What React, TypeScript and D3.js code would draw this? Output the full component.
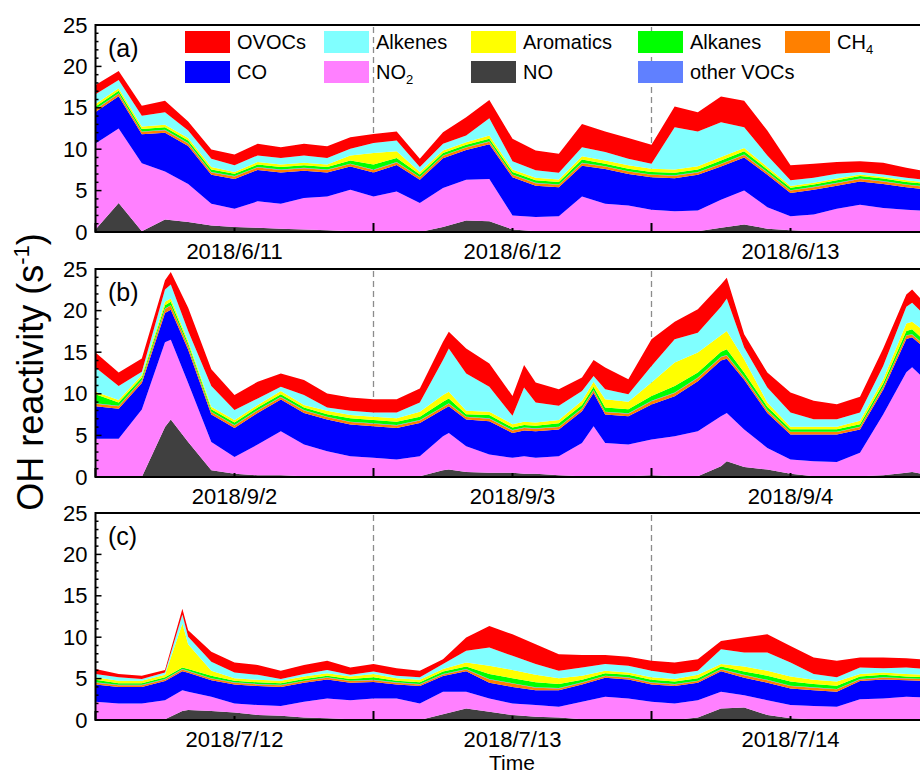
import React, { useEffect, useRef } from "react";
import * as d3 from "d3";

// stack order, bottom first
const keys = ["NO", "NO2", "CO", "CH4", "otherVOCs", "Alkanes", "Aromatics", "Alkenes", "OVOCs"];

const colors: Record<string, string> = {
  NO: "#404040",
  NO2: "#ff80ff",
  CO: "#0000ff",
  CH4: "#ff8000",
  otherVOCs: "#6080ff",
  Alkanes: "#00ff00",
  Aromatics: "#ffff00",
  Alkenes: "#80ffff",
  OVOCs: "#ff0000",
};

const dayLabelsA = ["2018/6/11", "2018/6/12", "2018/6/13"];
const dayLabelsB = ["2018/9/2", "2018/9/3", "2018/9/4"];
const dayLabelsC = ["2018/7/12", "2018/7/13", "2018/7/14"];

// (a) June, hours since 6/11 00:00
const hoursA = [0, 2, 4, 6, 8, 10, 12, 14, 16, 18, 20, 22, 24, 26, 28, 30, 32, 34, 36, 38, 40, 42, 44, 46, 48, 50, 52, 54, 56, 58, 60, 62, 64, 66, 68, 70, 72];
const noA = [0.3, 3.5, 0.1, 1.5, 1.2, 0.8, 0.6, 0.5, 0.4, 0.3, 0.2, 0.1, 0.1, 0.1, 0.0, 0.6, 1.4, 1.3, 0.3, 0.1, 0.0, 0.0, 0.0, 0.0, 0.0, 0.0, 0.1, 0.5, 0.9, 0.4, 0.2, 0.1, 0.1, 0.0, 0.0, 0.0, 0.0];
const no2A = [10.4, 9.0, 8.2, 5.8, 4.6, 2.6, 2.2, 3.2, 3.0, 3.8, 4.1, 5.0, 4.2, 4.8, 3.5, 4.7, 4.9, 5.1, 1.7, 1.7, 1.9, 4.3, 3.4, 3.2, 2.7, 2.5, 2.5, 3.4, 4.1, 2.6, 1.7, 2.0, 2.7, 3.3, 2.9, 2.7, 2.5];
const coA = [3.8, 3.9, 3.5, 4.7, 4.6, 3.5, 3.6, 3.8, 3.8, 3.3, 2.9, 2.8, 2.9, 3.2, 2.8, 3.6, 3.6, 4.2, 4.6, 3.8, 3.5, 3.7, 4.2, 3.8, 3.9, 4.0, 4.3, 4.0, 4.0, 3.9, 2.8, 3.0, 2.8, 2.8, 2.9, 2.7, 2.6];
const ch4A = [0.3, 0.3, 0.3, 0.3, 0.3, 0.3, 0.3, 0.3, 0.3, 0.3, 0.3, 0.3, 0.3, 0.3, 0.3, 0.3, 0.3, 0.3, 0.3, 0.3, 0.3, 0.3, 0.3, 0.3, 0.3, 0.3, 0.3, 0.3, 0.3, 0.3, 0.3, 0.3, 0.3, 0.3, 0.3, 0.3, 0.3];
const otherA = [0.05, 0.05, 0.05, 0.05, 0.05, 0.05, 0.05, 0.05, 0.05, 0.05, 0.05, 0.05, 0.05, 0.05, 0.05, 0.05, 0.05, 0.05, 0.05, 0.05, 0.05, 0.05, 0.05, 0.05, 0.05, 0.05, 0.05, 0.05, 0.05, 0.05, 0.05, 0.05, 0.05, 0.05, 0.05, 0.05, 0.05];
const alkaneA = [0.3, 0.3, 0.3, 0.3, 0.3, 0.3, 0.3, 0.3, 0.3, 0.3, 0.3, 0.4, 0.6, 0.5, 0.3, 0.3, 0.3, 0.3, 0.3, 0.3, 0.3, 0.4, 0.3, 0.3, 0.3, 0.3, 0.3, 0.4, 0.4, 0.3, 0.3, 0.3, 0.3, 0.3, 0.3, 0.3, 0.3];
const aromA = [0.3, 0.3, 0.3, 0.3, 0.3, 0.3, 0.2, 0.3, 0.3, 0.3, 0.3, 0.6, 1.4, 0.8, 0.3, 0.3, 0.3, 0.4, 0.3, 0.3, 0.3, 0.4, 0.4, 0.4, 0.4, 0.4, 0.4, 0.4, 0.4, 0.3, 0.2, 0.2, 0.2, 0.2, 0.2, 0.2, 0.2];
const alkeneA = [1.2, 1.0, 1.3, 1.5, 0.9, 1.0, 0.8, 0.8, 0.8, 0.9, 0.8, 0.8, 1.2, 1.3, 0.6, 0.8, 0.8, 2.1, 1.0, 0.9, 0.8, 1.1, 1.0, 0.8, 0.6, 5.1, 4.2, 4.2, 2.5, 1.4, 0.7, 0.6, 0.6, 0.3, 0.3, 0.3, 0.3];
const ovocA = [1.1, 1.1, 1.2, 1.4, 1.1, 1.1, 1.3, 1.4, 1.3, 1.4, 1.4, 1.4, 1.1, 1.1, 1.0, 1.4, 2.2, 2.2, 2.7, 2.4, 2.3, 2.8, 2.5, 2.5, 2.3, 2.5, 2.3, 3.1, 3.2, 3.0, 1.8, 1.7, 1.4, 1.3, 1.4, 1.2, 1.0];

// (b) September, hours since 9/2 00:00
const hoursB = [0, 2, 4, 6, 6.5, 8, 10, 12, 14, 16, 18, 20, 22, 24, 26, 28, 30, 30.5, 32, 34, 36, 37, 38, 40, 42, 43, 44, 46, 48, 50, 52, 54, 54.5, 56, 58, 60, 62, 64, 66, 68, 70, 70.5, 72];
const noB = [0, 0, 0, 6.0, 6.9, 4.2, 0.8, 0.4, 0.2, 0.2, 0.1, 0.1, 0, 0, 0, 0.1, 0.8, 0.9, 0.6, 0.5, 0.5, 0.4, 0.4, 0.2, 0.1, 0.1, 0.1, 0.1, 0.2, 0.1, 0.1, 1.3, 1.9, 1.2, 0.9, 0.4, 0.1, 0.1, 0.1, 0.2, 0.5, 0.6, 0.2];
const no2B = [4.6, 4.6, 8.1, 10.2, 9.6, 7.1, 3.4, 2.0, 3.7, 5.3, 3.8, 3.0, 2.5, 2.3, 2.1, 2.4, 4.1, 4.4, 3.1, 2.2, 1.8, 2.1, 1.9, 2.3, 4.0, 6.0, 4.0, 3.8, 4.3, 4.8, 5.4, 6.0, 5.8, 4.5, 2.6, 1.7, 1.8, 1.7, 2.8, 7.3, 12.1, 12.6, 11.0];
const coB = [3.9, 3.6, 3.2, 3.5, 3.6, 4.0, 3.3, 3.5, 3.8, 3.8, 3.8, 3.8, 3.8, 3.8, 3.8, 4.0, 3.2, 3.2, 3.2, 4.0, 3.0, 3.1, 3.2, 3.2, 3.8, 4.0, 3.4, 3.4, 4.2, 4.8, 6.0, 6.7, 6.5, 6.0, 4.2, 3.0, 3.2, 3.3, 2.8, 3.0, 4.0, 3.6, 3.8];
const ch4B = [0.3, 0.3, 0.3, 0.5, 0.5, 0.4, 0.3, 0.3, 0.3, 0.3, 0.3, 0.3, 0.3, 0.3, 0.3, 0.3, 0.3, 0.3, 0.3, 0.3, 0.3, 0.3, 0.3, 0.3, 0.3, 0.3, 0.3, 0.3, 0.4, 0.4, 0.4, 0.4, 0.4, 0.3, 0.3, 0.3, 0.3, 0.3, 0.3, 0.3, 0.4, 0.3, 0.3];
const otherB = [0.05, 0.05, 0.05, 0.05, 0.05, 0.05, 0.05, 0.05, 0.05, 0.05, 0.05, 0.05, 0.05, 0.05, 0.05, 0.05, 0.05, 0.05, 0.05, 0.05, 0.05, 0.05, 0.05, 0.05, 0.05, 0.05, 0.05, 0.05, 0.05, 0.05, 0.05, 0.05, 0.05, 0.05, 0.05, 0.05, 0.05, 0.05, 0.05, 0.05, 0.05, 0.05, 0.05];
const alkaneB = [1.1, 0.4, 0.3, 0.4, 0.4, 0.3, 0.3, 0.3, 0.3, 0.3, 0.3, 0.3, 0.4, 0.4, 0.4, 0.4, 0.6, 0.6, 0.3, 0.4, 0.3, 0.3, 0.3, 0.4, 0.4, 0.4, 0.5, 0.5, 0.6, 0.8, 0.6, 0.6, 0.7, 0.5, 0.4, 0.3, 0.3, 0.3, 0.3, 0.4, 0.5, 0.6, 0.5];
const aromB = [0.3, 0.3, 0.3, 0.4, 0.4, 0.3, 0.3, 0.3, 0.3, 0.4, 0.3, 0.4, 0.4, 0.4, 0.4, 0.6, 0.8, 0.8, 0.4, 0.4, 0.4, 0.4, 0.4, 0.4, 0.5, 0.6, 1.0, 0.9, 1.6, 2.8, 2.4, 2.0, 2.2, 1.6, 0.5, 0.3, 0.3, 0.3, 0.4, 0.5, 0.9, 0.9, 1.2];
const alkeneB = [2.9, 1.7, 0.4, 1.5, 1.7, 1.2, 2.5, 1.2, 0.8, 0.5, 1.2, 0.4, 0.5, 0.5, 0.7, 1.1, 4.2, 5.2, 4.5, 3.0, 1.0, 4.1, 2.4, 1.7, 1.2, 0.7, 1.2, 0.9, 2.0, 2.8, 2.4, 3.4, 3.9, 1.4, 1.8, 1.7, 0.9, 0.9, 1.0, 1.6, 2.0, 2.3, 1.8];
const ovocB = [1.8, 1.6, 1.6, 1.1, 1.5, 2.8, 2.0, 1.8, 2.0, 1.6, 1.8, 1.7, 1.6, 1.6, 1.6, 1.7, 2.2, 2.0, 3.0, 2.8, 2.4, 2.7, 2.4, 2.0, 1.6, 1.9, 2.6, 1.8, 3.2, 2.1, 2.8, 2.7, 2.5, 1.6, 1.8, 2.4, 2.2, 1.8, 1.9, 2.1, 1.5, 1.6, 1.4];

// (c) July, hours since 7/12 00:00
const hoursC = [0, 2, 4, 6, 7.5, 8, 10, 12, 14, 16, 18, 20, 22, 24, 26, 28, 30, 32, 34, 36, 38, 40, 42, 44, 46, 48, 50, 52, 54, 56, 58, 60, 62, 64, 66, 68, 70, 72];
const noC = [0, 0, 0, 0.1, 1.1, 1.2, 1.1, 0.9, 0.6, 0.5, 0.3, 0.2, 0.1, 0.1, 0.1, 0, 0.7, 1.4, 1.0, 0.6, 0.4, 0.3, 0.1, 0, 0, 0, 0, 0.3, 1.4, 1.5, 0.6, 0.2, 0.1, 0, 0, 0, 0, 0];
const no2C = [2.2, 2.0, 2.0, 2.3, 2.5, 2.2, 1.7, 1.1, 1.2, 1.2, 1.9, 2.4, 2.3, 2.5, 2.5, 2.0, 2.7, 2.0, 1.6, 1.4, 1.4, 1.3, 2.1, 2.8, 2.6, 2.2, 2.0, 2.1, 2.0, 1.5, 1.8, 1.6, 1.6, 1.6, 2.5, 2.6, 2.8, 2.7];
const coC = [2.1, 2.0, 2.0, 2.3, 2.3, 2.3, 2.0, 2.3, 2.3, 2.3, 2.3, 2.3, 2.1, 2.0, 1.7, 2.1, 1.9, 2.5, 1.9, 2.0, 1.8, 2.0, 2.1, 2.3, 2.3, 2.1, 2.1, 2.1, 2.5, 2.1, 2.1, 2.0, 1.9, 1.8, 2.2, 2.3, 2.0, 2.0];
const ch4C = [0.2, 0.2, 0.2, 0.2, 0.2, 0.2, 0.2, 0.2, 0.2, 0.2, 0.2, 0.2, 0.2, 0.2, 0.2, 0.2, 0.2, 0.2, 0.4, 0.4, 0.3, 0.2, 0.2, 0.2, 0.2, 0.2, 0.2, 0.2, 0.2, 0.3, 0.3, 0.3, 0.3, 0.3, 0.2, 0.2, 0.2, 0.2];
const otherC = [0.05, 0.05, 0.05, 0.05, 0.05, 0.05, 0.05, 0.05, 0.05, 0.05, 0.05, 0.05, 0.05, 0.05, 0.05, 0.05, 0.05, 0.05, 0.05, 0.05, 0.05, 0.05, 0.05, 0.05, 0.05, 0.05, 0.05, 0.05, 0.05, 0.05, 0.05, 0.05, 0.05, 0.05, 0.05, 0.05, 0.05, 0.05];
const alkaneC = [0.3, 0.2, 0.2, 0.2, 0.2, 0.2, 0.3, 0.2, 0.2, 0.2, 0.2, 0.2, 0.2, 0.3, 0.2, 0.2, 0.3, 0.3, 0.6, 0.6, 0.6, 0.5, 0.3, 0.3, 0.3, 0.3, 0.3, 0.3, 0.3, 0.4, 0.5, 0.5, 0.4, 0.4, 0.3, 0.3, 0.2, 0.2];
const aromC = [0.3, 0.3, 0.3, 0.3, 5.3, 3.0, 0.6, 0.3, 0.3, 0.3, 0.3, 0.3, 0.3, 0.4, 0.3, 0.3, 0.3, 0.5, 1.0, 1.0, 0.9, 0.7, 0.5, 0.3, 0.3, 0.3, 0.3, 0.4, 0.3, 0.6, 0.6, 0.6, 0.5, 0.5, 0.3, 0.3, 0.3, 0.3];
const alkeneC = [0.4, 0.4, 0.2, 0.3, 1.1, 0.9, 1.1, 0.7, 0.6, 0.2, 0.3, 0.4, 0.2, 0.3, 0.3, 0.3, 0.6, 1.4, 2.2, 1.7, 1.3, 0.9, 1.0, 0.8, 0.8, 0.8, 0.6, 0.5, 1.8, 1.7, 2.2, 1.7, 0.7, 0.5, 0.8, 0.5, 0.8, 0.7];
const ovocC = [0.6, 0.4, 0.4, 0.3, 0.7, 0.8, 1.2, 1.2, 1.2, 1.0, 1.1, 1.1, 0.9, 0.9, 0.9, 0.8, 0.6, 1.6, 2.6, 2.6, 2.4, 2.0, 1.5, 1.1, 1.1, 1.2, 1.4, 1.4, 1.0, 1.8, 2.2, 2.0, 2.0, 2.0, 1.2, 1.3, 1.1, 1.1];

const panelsData = [
  {
    tag: "(a)", days: dayLabelsA, hours: hoursA,
    series: { NO: noA, NO2: no2A, CO: coA, CH4: ch4A, otherVOCs: otherA, Alkanes: alkaneA, Aromatics: aromA, Alkenes: alkeneA, OVOCs: ovocA },
  },
  {
    tag: "(b)", days: dayLabelsB, hours: hoursB,
    series: { NO: noB, NO2: no2B, CO: coB, CH4: ch4B, otherVOCs: otherB, Alkanes: alkaneB, Aromatics: aromB, Alkenes: alkeneB, OVOCs: ovocB },
  },
  {
    tag: "(c)", days: dayLabelsC, hours: hoursC,
    series: { NO: noC, NO2: no2C, CO: coC, CH4: ch4C, otherVOCs: otherC, Alkanes: alkaneC, Aromatics: aromC, Alkenes: alkeneC, OVOCs: ovocC },
  },
];

// legend: [key, main text, subscript]
const legendRows = [
  [["OVOCs", "OVOCs", ""], ["Alkenes", "Alkenes", ""], ["Aromatics", "Aromatics", ""], ["Alkanes", "Alkanes", ""], ["CH4", "CH", "4"]],
  [["CO", "CO", ""], ["NO2", "NO", "2"], ["NO", "NO", ""], ["otherVOCs", "other VOCs", ""]],
];

const FONT = "'Liberation Sans', Arial, Helvetica, sans-serif";

const Chart = () => {
  const svgRef = useRef<SVGSVGElement>(null);

  useEffect(() => {
    const svg = d3.select(svgRef.current);
    svg.selectAll("*").remove();

    const x0 = 95.5;
    const x1 = 929.5;
    const x = d3.scaleLinear().domain([0, 72]).range([x0, x1]);
    const boxes = [
      { top: 25, bottom: 232 },
      { top: 269, bottom: 477 },
      { top: 513, bottom: 720 },
    ];

    panelsData.forEach((p, pi) => {
      const { top, bottom } = boxes[pi];
      const y = d3.scaleLinear().domain([0, 25]).range([bottom, top]);
      const g = svg.append("g");

      const clipId = `clip${pi}`;
      svg.append("clipPath").attr("id", clipId)
        .append("rect").attr("x", x0).attr("y", top).attr("width", x1 - x0).attr("height", bottom - top);

      // midnight separators behind the data
      [24, 48].forEach((h) => {
        g.append("line")
          .attr("x1", x(h)).attr("x2", x(h))
          .attr("y1", top + 2).attr("y2", bottom)
          .attr("stroke", "#8c8c8c")
          .attr("stroke-width", 1.3)
          .attr("stroke-dasharray", "6,4");
      });

      const rows = p.hours.map((h, i) => {
        const r: any = { h };
        keys.forEach((k) => (r[k] = (p.series as any)[k][i]));
        return r;
      });
      const stacked = d3.stack<any>().keys(keys)(rows);

      const area = d3.area<any>()
        .x((d) => x(d.data.h))
        .y0((d) => y(d[0]))
        .y1((d) => y(d[1]));

      g.append("g").attr("clip-path", `url(#${clipId})`)
        .selectAll("path")
        .data(stacked)
        .enter()
        .append("path")
        .attr("d", area)
        .attr("fill", (d) => colors[d.key]);

      // frame
      g.append("rect")
        .attr("x", x0).attr("y", top)
        .attr("width", x1 - x0).attr("height", bottom - top)
        .attr("fill", "none").attr("stroke", "#000").attr("stroke-width", 2);

      // y ticks, pointing in
      d3.range(0, 26, 1).forEach((v) => {
        const major = v % 5 === 0;
        g.append("line")
          .attr("x1", x0).attr("x2", x0 + (major ? 6 : 3))
          .attr("y1", y(v)).attr("y2", y(v))
          .attr("stroke", "#000").attr("stroke-width", 1.5);
      });
      y.ticks(5).forEach((v) => {
        g.append("text")
          .attr("x", x0 - 8).attr("y", y(v))
          .attr("text-anchor", "end")
          .attr("dominant-baseline", "central")
          .attr("font-family", FONT).attr("font-size", 22)
          .text(v);
      });

      // x ticks, pointing in
      [0, 12, 24, 36, 48, 60, 72].forEach((h) => {
        const major = h % 24 === 0;
        g.append("line")
          .attr("x1", x(h)).attr("x2", x(h))
          .attr("y1", bottom).attr("y2", bottom - (major ? 9 : 4))
          .attr("stroke", "#000").attr("stroke-width", 2);
      });
      p.days.forEach((lab, i) => {
        g.append("text")
          .attr("x", x(12 + 24 * i)).attr("y", bottom + 27)
          .attr("text-anchor", "middle")
          .attr("font-family", FONT).attr("font-size", 22)
          .text(lab);
      });

      g.append("text")
        .attr("x", 108).attr("y", top + 32)
        .attr("font-family", FONT).attr("font-size", 25)
        .text(p.tag);
    });

    // legend inside panel (a)
    const cols = [185, 324, 471, 638, 785];
    const rowY = [31, 61];
    legendRows.forEach((row, ri) => {
      row.forEach(([key, main, sub], ci) => {
        const lg = svg.append("g").attr("transform", `translate(${cols[ci]},${rowY[ri]})`);
        lg.append("rect").attr("width", 45).attr("height", 22).attr("fill", colors[key]);
        const t = lg.append("text")
          .attr("x", 52).attr("y", 18)
          .attr("font-family", FONT).attr("font-size", 20)
          .text(main);
        if (sub) {
          t.append("tspan").attr("font-size", 13).attr("dy", 5).text(sub);
        }
      });
    });

    // axis titles
    const yt = svg.append("text")
      .attr("transform", "translate(43,372) rotate(-90)")
      .attr("text-anchor", "middle")
      .attr("font-family", FONT).attr("font-size", 36)
      .text("OH reactivity (s");
    yt.append("tspan").attr("font-size", 22).attr("dy", -14).text("-1");
    yt.append("tspan").attr("dy", 14).text(")");

    svg.append("text")
      .attr("x", 512).attr("y", 770)
      .attr("text-anchor", "middle")
      .attr("font-family", FONT).attr("font-size", 21)
      .text("Time");
  }, []);

  return (
    <svg
      ref={svgRef}
      width={920}
      height={776}
      style={{ position: "absolute", left: 0, top: 0, background: "#fff" }}
    ></svg>
  );
};

export default function App() {
  return <Chart />;
}
